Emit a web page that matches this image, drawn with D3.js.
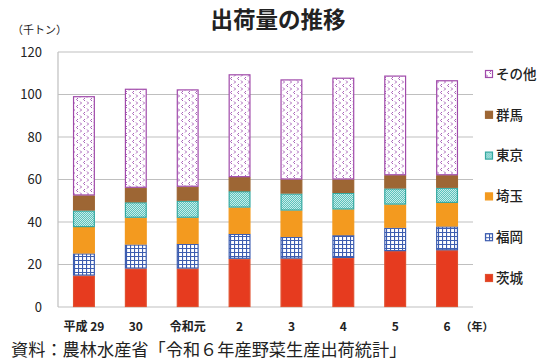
<!DOCTYPE html>
<html>
<head>
<meta charset="utf-8">
<script src="https://cdn.jsdelivr.net/npm/d3@7"></script>
<style>
  body { margin: 0; background: #fff; }
  text { font-family: "Noto Sans CJK JP", "Noto Sans", sans-serif; fill: #222; }
</style>
</head>
<body>
<div id="chart"></div>
<script>
// data (thousand tonnes)
var years = ["平成 29", "30", "令和元", "2", "3", "4", "5", "6"];
var prefs = ["茨城", "福岡", "埼玉", "東京", "群馬", "その他"];
var ibaraki = [14.8, 18.1, 18.1, 22.7, 22.8, 23.1, 26.3, 26.7];
var fukuoka = [10.4, 11.3, 11.6, 11.7, 10.2, 10.7, 11.0, 11.2];
var saitama = [12.4, 12.6, 12.3, 12.4, 12.4, 12.1, 10.9, 11.1];
var tokyo   = [7.8, 7.3, 8.0, 7.7, 8.0, 7.8, 7.6, 7.1];
var gunma   = [7.1, 6.8, 6.6, 6.6, 6.6, 6.3, 6.2, 5.9];
var other   = [46.7, 46.6, 45.8, 48.4, 47.1, 47.9, 46.9, 44.7];
var yTicks = [0, 20, 40, 60, 80, 100, 120];

var series = [ibaraki, fukuoka, saitama, tokyo, gunma, other];
var rows = years.map(function(y, i) {
    var r = { year: y };
    prefs.forEach(function(p, k) { r[p] = series[k][i]; });
    return r;
});

var W = 550, H = 363;
var margin = { top: 52, right: 77, bottom: 56, left: 58 };
var width = W - margin.left - margin.right;
var height = H - margin.top - margin.bottom;

var svg = d3.select("#chart").append("svg")
    .attr("width", W)
    .attr("height", H);

// patterns
var defs = svg.append("defs");

var pOther = defs.append("pattern").attr("id", "pOther")
    .attr("patternUnits", "userSpaceOnUse").attr("width", 7).attr("height", 7);
pOther.append("rect").attr("width", 7).attr("height", 7).attr("fill", "#fff");
pOther.append("path").attr("d", "M1,0.5 L2.5,2 L1,3.5").attr("stroke", "#a860b8").attr("stroke-width", 1).attr("fill", "none");
pOther.append("path").attr("d", "M6,4 L4.5,5.5 L6,7").attr("stroke", "#a860b8").attr("stroke-width", 1).attr("fill", "none");

var pTokyo = defs.append("pattern").attr("id", "pTokyo")
    .attr("patternUnits", "userSpaceOnUse").attr("width", 2).attr("height", 2);
pTokyo.append("rect").attr("width", 2).attr("height", 2).attr("fill", "#5cc3bd");
pTokyo.append("rect").attr("width", 1).attr("height", 1).attr("fill", "#c8ece9");
pTokyo.append("rect").attr("x", 1).attr("y", 1).attr("width", 1).attr("height", 1).attr("fill", "#c8ece9");

var pFuku = defs.append("pattern").attr("id", "pFuku")
    .attr("patternUnits", "userSpaceOnUse").attr("width", 4).attr("height", 4);
pFuku.append("rect").attr("width", 4).attr("height", 4).attr("fill", "#fff");
pFuku.append("path").attr("d", "M0,0.5 H4 M0.5,0 V4").attr("stroke", "#3d5db0").attr("stroke-width", 1.2);

var fills = {
    "茨城": "#e63b1f",
    "福岡": "url(#pFuku)",
    "埼玉": "#f39a1f",
    "東京": "url(#pTokyo)",
    "群馬": "#9d6634",
    "その他": "url(#pOther)"
};
var strokes = {
    "茨城": "#e0502f",
    "福岡": "#3d5db0",
    "埼玉": "#f39a1f",
    "東京": "#35a8a0",
    "群馬": "#9d6634",
    "その他": "#a04aaa"
};

var g = svg.append("g")
    .attr("transform", "translate(" + margin.left + "," + margin.top + ")");

var x = d3.scaleBand().domain(years).range([0, width]).paddingInner(0.58).paddingOuter(0.29);
var y = d3.scaleLinear().domain([0, 120]).range([height, 0]);

// gridlines
g.selectAll(".grid").data(yTicks).enter().append("line")
    .attr("x1", 0).attr("x2", width)
    .attr("y1", function(d) { return y(d); })
    .attr("y2", function(d) { return y(d); })
    .attr("stroke", "#bfbfbf").attr("stroke-width", 1.2);

g.append("line")
    .attr("x1", 0).attr("x2", 0).attr("y1", 0).attr("y2", height)
    .attr("stroke", "#bfbfbf").attr("stroke-width", 1.2);

// y tick labels
g.selectAll(".ytick").data(yTicks).enter().append("text")
    .attr("x", -16)
    .attr("y", function(d) { return y(d); })
    .attr("dy", "0.36em")
    .attr("text-anchor", "end")
    .style("font-size", "13px")
    .text(function(d) { return d; });

// stacked bars
var stack = d3.stack().keys(prefs)(rows);
var layer = g.selectAll(".layer").data(stack).enter().append("g")
    .attr("fill", function(d) { return fills[d.key]; })
    .attr("stroke", function(d) { return strokes[d.key]; });

layer.selectAll("rect").data(function(d) { return d; }).enter().append("rect")
    .attr("x", function(d) { return x(d.data.year) + 0.5; })
    .attr("y", function(d) { return y(d[1]) + 0.5; })
    .attr("width", x.bandwidth() - 1)
    .attr("height", function(d) { return Math.max(0, y(d[0]) - y(d[1]) - 1); })
    .attr("stroke-width", 1.2);

// x labels
g.selectAll(".xtick").data(years).enter().append("text")
    .attr("x", function(d) { return x(d) + x.bandwidth() / 2; })
    .attr("y", height + 20)
    .attr("dy", "0.36em")
    .attr("text-anchor", "middle")
    .style("font-size", "12px")
    .style("font-weight", "bold")
    .text(function(d) { return d; });

svg.append("text")
    .attr("x", 477).attr("y", margin.top + height + 20)
    .attr("dy", "0.36em")
    .attr("text-anchor", "middle")
    .style("font-size", "11px")
    .style("font-weight", "bold")
    .text("（年）");

// legend
var legend = svg.append("g").attr("transform", "translate(485,74)");
var legItems = prefs.slice().reverse();
var li = legend.selectAll(".li").data(legItems).enter().append("g")
    .attr("transform", function(d, i) { return "translate(0," + (i * 40.8) + ")"; });
li.append("rect")
    .attr("x", 0.5).attr("y", -3.5).attr("width", 7).attr("height", 7)
    .attr("fill", function(d) { return fills[d]; })
    .attr("stroke", function(d) { return strokes[d]; })
    .attr("stroke-width", 1.2);
li.append("text")
    .attr("x", 11).attr("y", 0).attr("dy", "0.36em")
    .style("font-size", "13.5px")
    .style("font-weight", "500")
    .text(function(d) { return d; });

// title and notes
svg.append("text")
    .attr("x", 278).attr("y", 20).attr("dy", "0.36em")
    .attr("text-anchor", "middle")
    .style("font-size", "22.5px")
    .style("font-weight", "bold")
    .text("出荷量の推移");

svg.append("text")
    .attr("x", 12).attr("y", 30).attr("dy", "0.36em")
    .style("font-size", "11px")
    .text("（千トン）");

svg.append("text")
    .attr("x", 11).attr("y", 350).attr("dy", "0.36em")
    .style("font-size", "17.2px")
    .text("資料：農林水産省「令和６年産野菜生産出荷統計」");
</script>
</body>
</html>
